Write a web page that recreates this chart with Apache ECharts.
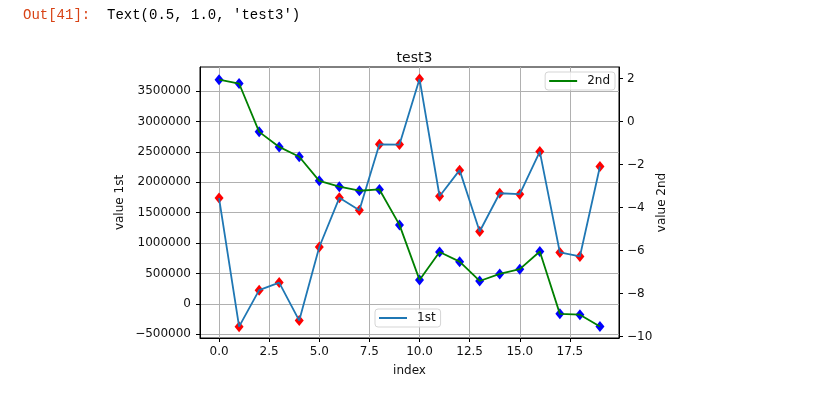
<!DOCTYPE html>
<html>
<head>
<meta charset="utf-8">
<script src="https://cdn.jsdelivr.net/npm/echarts@6/dist/echarts.min.js"></script>
<style>
html,body{margin:0;padding:0;background:#fff;}
#chart{width:835px;height:394px;}
</style>
</head>
<body>
<div id="chart"></div>
<script>
// ---- data ----
const indexValues = [0,1,2,3,4,5,6,7,8,9,10,11,12,13,14,15,16,17,18,19];
const firstValues = [1740000,-375000,225000,350000,-275000,935000,1745000,1540000,2625000,2620000,3700000,1770000,2200000,1190000,1820000,1805000,2505000,845000,780000,2260000];
const secondValues = [1.95,1.77,-0.48,-1.18,-1.64,-2.76,-3.03,-3.22,-3.16,-4.81,-7.37,-6.07,-6.52,-7.42,-7.09,-6.87,-6.05,-8.95,-8.99,-9.54];
const xTicks = [0,2.5,5,7.5,10,12.5,15,17.5];
const leftTicks = [-500000,0,500000,1000000,1500000,2000000,2500000,3000000,3500000];
const rightTicks = [-10,-8,-6,-4,-2,0,2];

const firstData = indexValues.map((x,i)=>[x, firstValues[i]]);
const secondData = indexValues.map((x,i)=>[x, secondValues[i]]);

const FONT = 'DejaVu Sans';
const minus = v => String(v).replace('-', '\u2212');
const tickStyle = {color:'#111', fontFamily:FONT, fontSize:12};
const nameStyle = {fontFamily:FONT, fontSize:12, color:'#111'};
const legendBase = {orient:'horizontal', icon:'rect', itemWidth:28, itemHeight:2,
  padding:[3,5,3,4], borderColor:'#d5d5d5', borderWidth:1, borderRadius:3, backgroundColor:'rgba(255,255,255,0.8)',
  itemGap:6, textStyle:{fontFamily:FONT, fontSize:12, color:'#111', padding:[0,0,0,5]}};

const chart = echarts.init(document.getElementById('chart'), null, {renderer:'canvas'});
chart.setOption({
  animation:false,
  backgroundColor:'#fff',
  title:{text:'test3', left:409.5, textAlign:'center', top:46,
    textStyle:{fontFamily:FONT, fontSize:14, fontWeight:'normal', color:'#111'}},
  graphic:[
    {type:'text', left:23, top:8, style:{text:'Out[41]:', fill:'#d84315', font:'14px "Liberation Mono"'}},
    {type:'text', left:107, top:8, style:{text:"Text(0.5, 1.0, 'test3')", fill:'#000', font:'14px "Liberation Mono"'}}
  ],
  grid:{left:200, top:67, width:419, height:271, show:true, borderColor:'#000', borderWidth:1, backgroundColor:'transparent'},
  legend:[
    Object.assign({data:['1st'], left:375, top:309}, legendBase),
    Object.assign({data:['2nd'], right:220, top:72}, legendBase)
  ],
  xAxis:{type:'value', min:-0.95, max:19.95,
    name:'index', nameLocation:'middle', nameGap:27, nameMoveOverlap:false, nameTextStyle:nameStyle,
    axisLine:{show:true, onZero:false, lineStyle:{color:'#000'}},
    axisTick:{show:true, length:4, customValues:xTicks, lineStyle:{color:'#000'}},
    axisLabel:{customValues:xTicks, margin:8, ...tickStyle, formatter:v=>v.toFixed(1)},
    splitLine:{show:true, customValues:xTicks, lineStyle:{color:'#b0b0b0', width:1}}
  },
  yAxis:[
    {type:'value', position:'left', min:-562000, max:3897000,
     name:'value 1st', nameLocation:'middle', nameGap:74, nameRotate:90, nameMoveOverlap:false, nameTextStyle:nameStyle,
     axisLine:{show:true, onZero:false, lineStyle:{color:'#000'}},
     axisTick:{show:true, length:4, customValues:leftTicks, lineStyle:{color:'#000'}},
     axisLabel:{customValues:leftTicks, margin:9, ...tickStyle, formatter:v=>minus(v)},
     splitLine:{show:true, customValues:leftTicks, lineStyle:{color:'#b0b0b0', width:1}}
    },
    {type:'value', position:'right', min:-10.074, max:2.539,
     name:'value 2nd', nameLocation:'middle', nameGap:37, nameRotate:90, nameMoveOverlap:false, nameTextStyle:nameStyle,
     axisLine:{show:true, onZero:false, lineStyle:{color:'#000'}},
     axisTick:{show:true, length:4, customValues:rightTicks, lineStyle:{color:'#000'}},
     axisLabel:{customValues:rightTicks, margin:8, ...tickStyle, formatter:v=>minus(v)},
     splitLine:{show:false}
    }
  ],
  series:[
    {name:'1st', type:'line', xAxisIndex:0, yAxisIndex:0, data:firstData, symbol:'none', color:'#1f77b4',
     lineStyle:{color:'#1f77b4', width:1.8}},
    {name:'1st markers', type:'scatter', xAxisIndex:0, yAxisIndex:0, data:firstData, symbol:'diamond', symbolSize:[9,11],
     itemStyle:{color:'#ff0000', opacity:1}},
    {name:'2nd', type:'line', xAxisIndex:0, yAxisIndex:1, data:secondData, symbol:'none', color:'#008000',
     lineStyle:{color:'#008000', width:1.8}},
    {name:'2nd markers', type:'scatter', xAxisIndex:0, yAxisIndex:1, data:secondData, symbol:'diamond', symbolSize:[9,11],
     itemStyle:{color:'#0000ff', opacity:1}}
  ]
});
</script>
</body>
</html>
